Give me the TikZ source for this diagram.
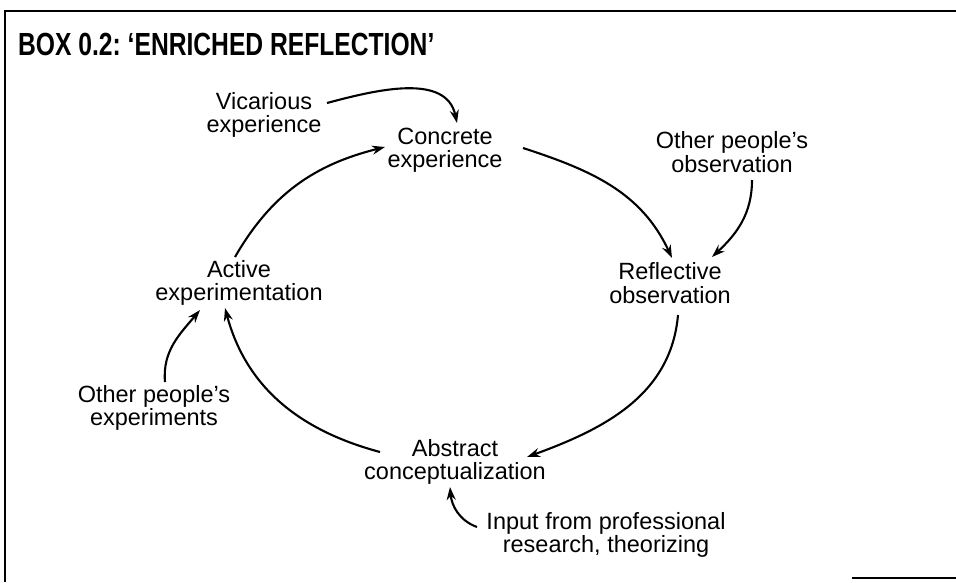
\documentclass[tikz,border=0pt]{standalone}
\usepackage{fontspec}
\setmainfont{Liberation Sans}
\usetikzlibrary{arrows.meta}

\begin{document}
\begin{tikzpicture}[x=1pt, y=-1pt,
	lbl/.style={align=center, inner sep=0pt, font=\fontsize{23.5}{23.5}\selectfont},
	flow/.style={line width=2.1pt, -{Stealth[length=13pt, width=9pt]}}]
	\useasboundingbox (0,0) rectangle (956,582);
	\draw[line width=1.3pt] (5,582) -- (5,11) -- (956,11);
	\draw[line width=1.3pt] (852,578) -- (956,578);
	\node[anchor=west, inner sep=0pt, font=\fontsize{32}{32}\bfseries] (title) at (18,44) {\scalebox{0.77}[1]{BOX 0.2:~`ENRICHED REFLECTION'}};
	\node[lbl] (conc) at (445,150) {Concrete\\experience};
	\node[lbl] (refl) at (670,283) {Reflective\\observation};
	\node[lbl] (abst) at (455,462) {Abstract\\conceptualization};
	\node[lbl] (act) at (239,283) {Active\\experimentation};
	\node[lbl] (vic) at (264,115) {Vicarious\\experience};
	\node[lbl] (oobs) at (732,152) {Other people's\\observation};
	\node[lbl] (oexp) at (154,408) {Other people's\\experiments};
	\node[lbl] (inp) at (606,535) {Input from professional\\research, theorizing};
	\draw[flow] ([shift={(78,-2)}]conc.center) to[out=-18, in=115] ([shift={(2,-25)}]refl.center);
	\draw[flow] ([shift={(8,32)}]refl.center) to[out=-95, in=20] ([shift={(72,-5)}]abst.center);
	\draw[flow] ([shift={(-75,-10)}]abst.center) to[out=165, in=-75] ([shift={(-14,25)}]act.center);
	\draw[flow] ([shift={(-4,-26)}]act.center) to[out=60, in=194] ([shift={(-60,-3)}]conc.center);
	\draw[flow] ([shift={(63,-12)}]vic.center) to[out=15, in=102] ([shift={(12,-27)}]conc.center);
	\draw[flow] ([shift={(20,28)}]oobs.center) to[out=-90, in=43] ([shift={(42,-26)}]refl.center);
	\draw[flow] ([shift={(11,-26)}]oexp.center) to[out=95, in=230] ([shift={(-39,27)}]act.center);
	\draw[flow] ([shift={(-129,-8)}]inp.center) to[out=160, in=-85] ([shift={(-5,25)}]abst.center);
\end{tikzpicture}
\end{document}
